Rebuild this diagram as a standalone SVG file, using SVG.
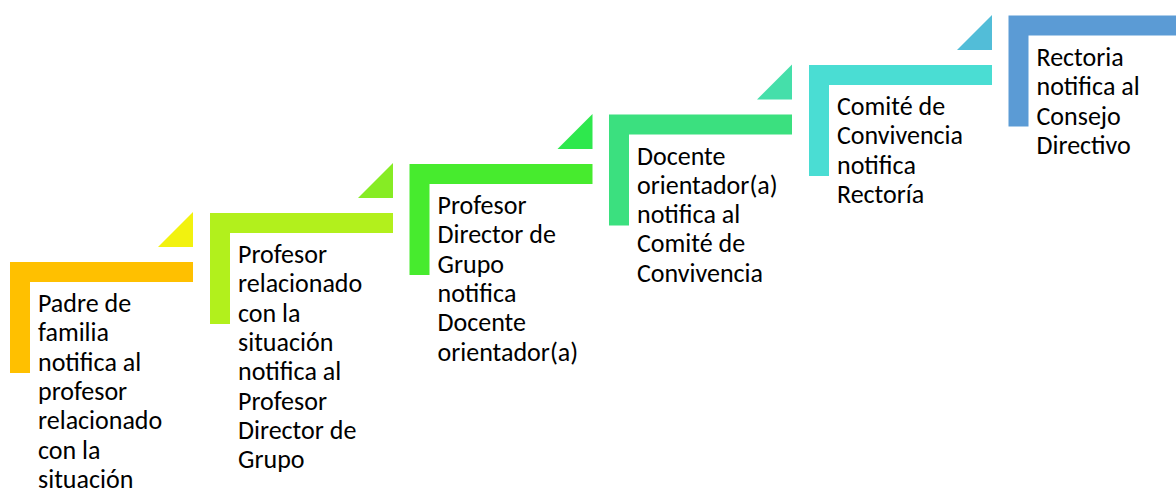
<svg xmlns="http://www.w3.org/2000/svg" width="1176" height="489" viewBox="0 0 1176 489">
<style>
.t{font-family:Carlito,Lato,"Liberation Sans",sans-serif;font-size:26px;fill:#000}
</style>
<rect width="1176" height="489" fill="#fff"/>
<g id="step1">
<path d="M10 262H193V282H30V373H10Z" fill="#FFC000"/>
<polygon points="158,247 193,212 193,247" fill="#F2F20F"/>
<text class="t"><tspan x="38" y="312">Padre de</tspan><tspan x="38" y="341.3">familia</tspan><tspan x="38" y="370.6">notifica al</tspan><tspan x="38" y="399.9">profesor</tspan><tspan x="38" y="429.2">relacionado</tspan><tspan x="38" y="458.5">con la</tspan><tspan x="38" y="487.5">situación</tspan></text>
</g>
<g id="step2">
<path d="M210 213H393V233H230V324H210Z" fill="#B2F01C"/>
<polygon points="358,198 393,163 393,198" fill="#86EC24"/>
<text class="t"><tspan x="238" y="263">Profesor</tspan><tspan x="238" y="292.3">relacionado</tspan><tspan x="238" y="321.6">con la</tspan><tspan x="238" y="350.9">situación</tspan><tspan x="238" y="380.2">notifica al</tspan><tspan x="238" y="409.5">Profesor</tspan><tspan x="238" y="438.8">Director de</tspan><tspan x="238" y="468.1">Grupo</tspan></text>
</g>
<g id="step3">
<path d="M409.5 164H592.5V184H429.5V275H409.5Z" fill="#47EB2E"/>
<polygon points="557.5,149 592.5,114 592.5,149" fill="#2EE84D"/>
<text class="t"><tspan x="437.5" y="214">Profesor</tspan><tspan x="437.5" y="243.3">Director de</tspan><tspan x="437.5" y="272.6">Grupo</tspan><tspan x="437.5" y="301.9">notifica</tspan><tspan x="437.5" y="331.2">Docente</tspan><tspan x="437.5" y="360.5">orientador(a)</tspan></text>
</g>
<g id="step4">
<path d="M609 114.5H792V134.5H629V225.5H609Z" fill="#3BE07F"/>
<polygon points="757,99.5 792,64.5 792,99.5" fill="#45DFAA"/>
<text class="t"><tspan x="637" y="164.5">Docente</tspan><tspan x="637" y="193.8">orientador(a)</tspan><tspan x="637" y="223.1">notifica al</tspan><tspan x="637" y="252.4">Comité de</tspan><tspan x="637" y="281.7">Convivencia</tspan></text>
</g>
<g id="step5">
<path d="M809 65H992V85H829V176H809Z" fill="#4ADDD3"/>
<polygon points="957,50 992,15 992,50" fill="#52BDD8"/>
<text class="t"><tspan x="837" y="115">Comité de</tspan><tspan x="837" y="144.3">Convivencia</tspan><tspan x="837" y="173.6">notifica</tspan><tspan x="837" y="202.9">Rectoría</tspan></text>
</g>
<g id="step6">
<path d="M1008.5 15.5H1191.5V35.5H1028.5V126.5H1008.5Z" fill="#5B9BD5"/>
<text class="t"><tspan x="1036.5" y="66">Rectoria</tspan><tspan x="1036.5" y="95.3">notifica al</tspan><tspan x="1036.5" y="124.6">Consejo</tspan><tspan x="1036.5" y="153.9">Directivo</tspan></text>
</g>
<g id="connectors"></g>
</svg>
